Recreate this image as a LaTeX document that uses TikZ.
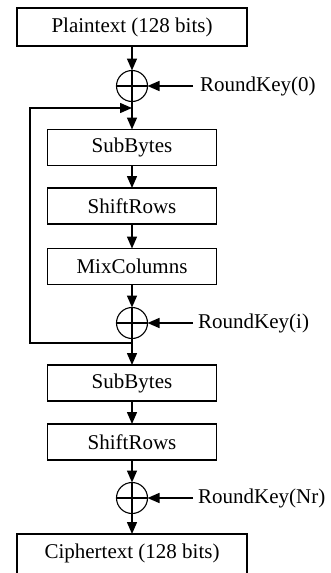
\documentclass[tikz,border=0pt]{standalone}
\usepackage{fontspec}
\setmainfont{Liberation Serif}
\usetikzlibrary{arrows.meta}
\begin{document}
\begin{tikzpicture}[x=1pt,y=-1pt,
  every node/.style={font=\fontsize{21}{25}\selectfont},
  stagebox/.style={draw,line width=1.8pt,inner sep=0pt,outer sep=0pt},
  wide/.style={stagebox,minimum width=230pt,minimum height=38pt},
  narrow/.style={stagebox,minimum width=169pt,minimum height=36pt},
  xorop/.style={circle,draw,line width=1.1pt,minimum size=31pt,inner sep=0pt,outer sep=0pt,
    path picture={\draw[line width=1.1pt]
      (path picture bounding box.north) -- (path picture bounding box.south)
      (path picture bounding box.west) -- (path picture bounding box.east);}},
  keylabel/.style={anchor=west,inner sep=0pt},
  flow/.style={line width=1.5pt,-{Triangle[length=12pt,width=10pt]}},
]
\useasboundingbox (0,0) rectangle (330,573);
\begin{scope}
\clip (0,0) rectangle (330,573);

% boxes
\node[wide]   (pt)  at (132,27)    {Plaintext (128 bits)};
\node[narrow] (sb1) at (132,147.5) {SubBytes};
\node[narrow] (sr1) at (132,206)   {ShiftRows};
\node[narrow] (mc)  at (132,266.5) {MixColumns};
\node[narrow] (sb2) at (132,383)   {SubBytes};
\node[narrow] (sr2) at (132,442)   {ShiftRows};
% the output box runs past the lower edge
\node[wide,draw=none] (ct) at (132,553) {Ciphertext (128 bits)};
\draw[line width=1.8pt] (ct.north west) rectangle ([yshift=-30pt]ct.south east);

% xor points
\node[xorop] (x0) at (132,86)  {};
\node[xorop] (x1) at (132,323) {};
\node[xorop] (x2) at (132,498) {};

% round key labels and inputs
\node[keylabel] (k0) at (200,86)  {RoundKey(0)};
\node[keylabel] (k1) at (198,323) {RoundKey(i)};
\node[keylabel] (k2) at (198,498) {RoundKey(Nr)};
\coordinate (k0s) at (193,86);
\coordinate (k1s) at (193,323);
\coordinate (k2s) at (193,498);
\draw[flow] (k0s) -- (x0.east);
\draw[flow] (k1s) -- (x1.east);
\draw[flow] (k2s) -- (x2.east);

% main data path
\draw[flow] (pt.south)  -- (x0.north);
\draw[flow] (x0.south)  -- (sb1.north);
\draw[flow] (sb1.south) -- (sr1.north);
\draw[flow] (sr1.south) -- (mc.north);
\draw[flow] (mc.south)  -- (x1.north);
\draw[flow] (x1.south)  -- (sb2.north);
\draw[flow] (sb2.south) -- (sr2.north);
\draw[flow] (sr2.south) -- (x2.north);
\draw[flow] (x2.south)  -- (ct.north);

% loop back for the next round
\coordinate (loopout) at (132,343);
\coordinate (loopin)  at (132,108);
\coordinate (loopbl)  at (30,343);
\coordinate (looptl)  at (30,108);
\draw[flow] (loopout) -- (loopbl) -- (looptl) -- (loopin);
\end{scope}
\end{tikzpicture}
\end{document}
